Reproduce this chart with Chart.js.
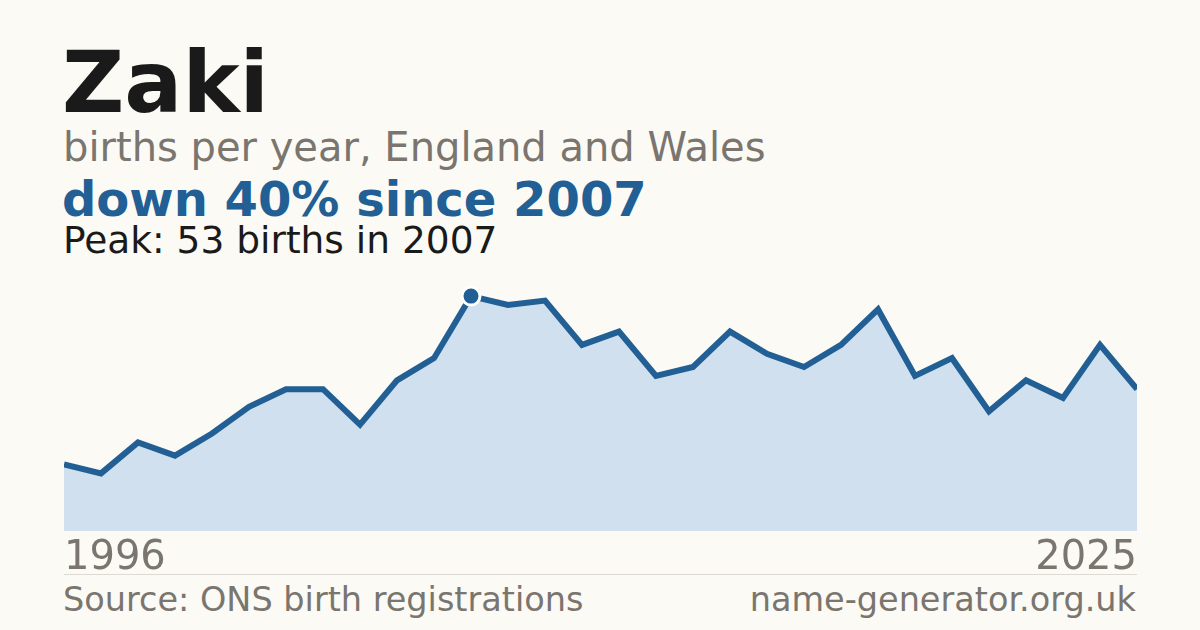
<!DOCTYPE html>
<html lang="en">
<head>
    <meta charset="UTF-8">
    <title>Zaki</title>
    <script src="https://cdn.jsdelivr.net/npm/chart.js"></script>
    <style>
        body {
            margin: 0;
            width: 1200px;
            height: 630px;
            background-color: #fbfaf5;
            font-family: "DejaVu Sans", sans-serif;
            position: relative;
            overflow: hidden;
        }
        .txt {
            position: absolute;
            left: 62px;
            line-height: 1;
            white-space: nowrap;
        }
        .name { top: 39px; font-size: 86px; font-weight: bold; color: #1a1a1a; }
        .sub { top: 127px; left: 63px; font-size: 40px; color: #7a756e; }
        .change { top: 175px; font-size: 48px; font-weight: bold; color: #215f94; }
        .peak { top: 222px; left: 63px; font-size: 37.5px; color: #1a1a1a; }
        .chart-box {
            position: absolute;
            left: 64px;
            top: 262px;
            width: 1073px;
            height: 317px;
        }
        .rule {
            position: absolute;
            left: 64px;
            top: 574px;
            width: 1073px;
            height: 1px;
            background-color: #dddad3;
        }
        .foot {
            position: absolute;
            top: 583px;
            font-size: 33.5px;
            line-height: 1;
            color: #7a756e;
        }
        .foot.left { left: 63px; }
        .foot.right { right: 64px; }
    </style>
</head>
<body>
    <div class="txt name">Zaki</div>
    <div class="txt sub">births per year, England and Wales</div>
    <div class="txt change">down 40% since 2007</div>
    <div class="txt peak">Peak: 53 births in 2007</div>

    <div class="chart-box">
        <canvas id="birthsChart"></canvas>
    </div>
    <div class="rule"></div>
    <div class="foot left">Source: ONS birth registrations</div>
    <div class="foot right">name-generator.org.uk</div>

    <script>
        const years = ['1996', '1997', '1998', '1999', '2000', '2001', '2002', '2003', '2004', '2005',
                       '2006', '2007', '2008', '2009', '2010', '2011', '2012', '2013', '2014', '2015',
                       '2016', '2017', '2018', '2019', '2020', '2021', '2022', '2023', '2024', '2025'];
        const births = [15, 13, 20, 17, 22, 28, 32, 32, 24, 34,
                        39, 53, 51, 52, 42, 45, 35, 37, 45, 40,
                        37, 42, 50, 35, 39, 27, 34, 30, 42, 32];
        const peakYear = '2007';

        const peakIndex = years.indexOf(peakYear);
        const lineColor = '#215f94';

        const ctx = document.getElementById('birthsChart').getContext('2d');
        new Chart(ctx, {
            type: 'line',
            data: {
                labels: years,
                datasets: [{
                    data: births,
                    borderColor: lineColor,
                    borderWidth: 6,
                    backgroundColor: '#d0e0ef',
                    fill: 'origin',
                    tension: 0,
                    pointRadius: births.map((v, i) => i === peakIndex ? 9 : 0),
                    pointBackgroundColor: lineColor,
                    pointBorderColor: '#ffffff',
                    pointBorderWidth: 3,
                    pointHoverRadius: 0
                }]
            },
            options: {
                responsive: true,
                maintainAspectRatio: false,
                animation: false,
                clip: false,
                layout: { padding: 0 },
                plugins: {
                    legend: { display: false },
                    tooltip: { enabled: false }
                },
                scales: {
                    x: {
                        offset: false,
                        grid: { display: false },
                        border: { display: false },
                        ticks: {
                            align: 'inner',
                            maxRotation: 0,
                            autoSkip: false,
                            padding: 0,
                            color: '#7a756e',
                            font: { family: 'DejaVu Sans', size: 40, lineHeight: 1 },
                            callback: function(value, index) {
                                return (index === 0 || index === years.length - 1) ? years[index] : '';
                            }
                        }
                    },
                    y: {
                        display: false,
                        min: 0,
                        max: 60.7
                    }
                }
            }
        });
    </script>
</body>
</html>
